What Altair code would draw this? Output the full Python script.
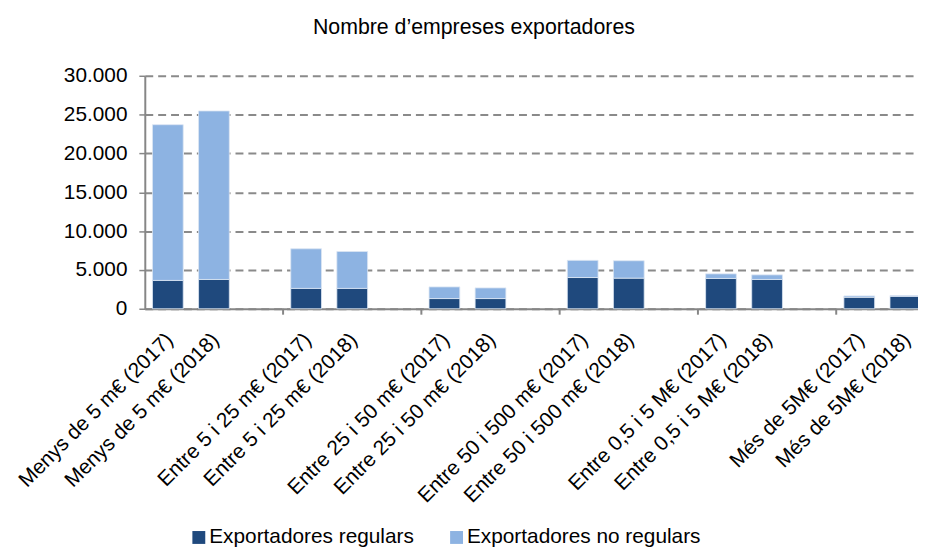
import altair as alt
import pandas as pd

categories = [
    "Menys de 5 m€ (2017)", "Menys de 5 m€ (2018)", "gap1",
    "Entre 5 i 25 m€ (2017)", "Entre 5 i 25 m€ (2018)", "gap2",
    "Entre 25 i 50 m€ (2017)", "Entre 25 i 50 m€ (2018)", "gap3",
    "Entre 50 i 500 m€ (2017)", "Entre 50 i 500 m€ (2018)", "gap4",
    "Entre 0,5 i 5 M€ (2017)", "Entre 0,5 i 5 M€ (2018)", "gap5",
    "Més de 5M€ (2017)", "Més de 5M€ (2018)", "gap6",
]
bar_categories = [c for c in categories if not c.startswith("gap")]
regulars = [3650, 3770, 2620, 2620, 1310, 1310, 4020, 3940, 3900, 3770, 1480, 1600]
no_regulars = [20050, 21700, 5100, 4750, 1500, 1370, 2210, 2240, 590, 590, 170, 90]
series = ["Exportadores regulars", "Exportadores no regulars"]
colors = ["#1F497D", "#8DB3E2"]
group_ticks = ["Entre 5 i 25 m€ (2017)", "Entre 25 i 50 m€ (2017)",
               "Entre 50 i 500 m€ (2017)", "Entre 0,5 i 5 M€ (2017)",
               "Més de 5M€ (2017)"]

rows = []
for c, r, n in zip(bar_categories, regulars, no_regulars):
    rows.append({"cat": c, "serie": series[0], "val": r, "ord": 0})
    rows.append({"cat": c, "serie": series[1], "val": n, "ord": 1})
df = pd.DataFrame(rows)
ticks_df = pd.DataFrame({"cat": group_ticks})

W, H = 780, 235
xscale = alt.Scale(domain=categories, range=[0, 837], paddingInner=0,
                   paddingOuter=0, round=False)

bars = alt.Chart(df).mark_bar(
    width=alt.RelativeBandSize(0.667), stroke="#dce6f2", strokeWidth=0.8
).encode(
    x=alt.X("cat:N", scale=xscale, sort=categories, title=None,
            axis=alt.Axis(labelAngle=-45, labelAlign="right", labelBaseline="middle",
                          labelExpr="indexof(datum.value, 'gap') == 0 ? '' : datum.value",
                          ticks=False, labelPadding=28, labelOffset=2,
                          labelFontSize=21, labelLimit=0,
                          labelColor="#000000", domainColor="#868686", domainWidth=2,
                          grid=False, labelOverlap=False)),
    y=alt.Y("val:Q", stack="zero", title=None,
            scale=alt.Scale(domain=[0, 30000]),
            axis=alt.Axis(values=[0, 5000, 10000, 15000, 20000, 25000, 30000],
                          labelExpr="replace(format(datum.value, ','), ',', '.')",
                          labelFontSize=21, labelColor="#000000", labelPadding=12,
                          tickSize=6, tickColor="#868686", tickWidth=1.5,
                          domainColor="#868686", domainWidth=2,
                          grid=True, gridColor="#8a8a8a", gridWidth=2,
                          gridDash=[8, 5])),
    color=alt.Color("serie:N", scale=alt.Scale(domain=series, range=colors),
                    legend=alt.Legend(title=None, orient="none", legendX=44, legendY=455,
                                      direction="horizontal", symbolType="square",
                                      symbolSize=169, symbolStrokeWidth=0,
                                      labelFontSize=21, labelColor="#000000",
                                      labelLimit=0,
                                      columnPadding=32, labelOffset=0)),
    order=alt.Order("ord:Q"),
)

ticks = alt.Chart(ticks_df).mark_rule(color="#868686", strokeWidth=2).encode(
    x=alt.X("cat:N", scale=xscale, bandPosition=0),
    y=alt.value(H),
    y2=alt.value(H + 6),
)

chart = alt.layer(bars, ticks).properties(
    width=W, height=H,
    title=alt.TitleParams("Nombre d’empreses exportadores", fontSize=21.5,
                          fontWeight="normal", color="#000000", anchor="middle",
                          dx=-58, offset=27),
    autosize=alt.AutoSizeParams(type="none"),
    padding={"left": 138, "top": 66, "right": 0, "bottom": 240},
).configure(font="Liberation Sans").configure_view(stroke=None)

chart.save("out.html", embed_options={"renderer": "svg", "actions": False})
